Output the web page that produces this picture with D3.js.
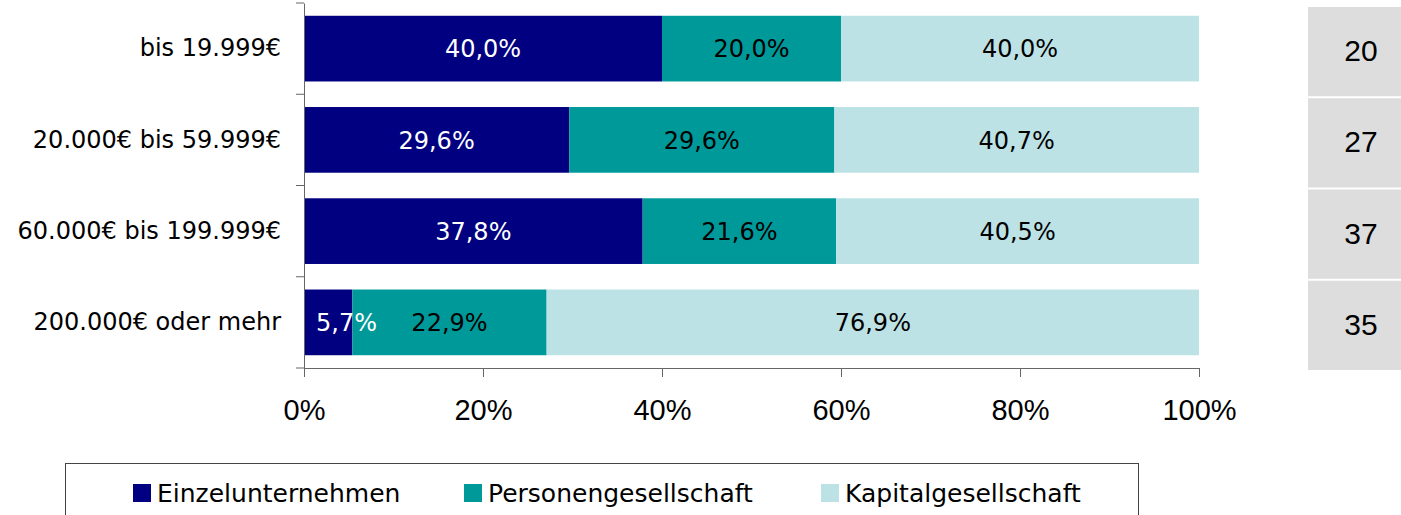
<!DOCTYPE html>
<html>
<meta charset="utf-8">
<script src="https://d3js.org/d3.v7.min.js"></script>
<style>
  body { margin: 0; background: #fff; }
  text { font-family: "DejaVu Sans", "Noto Sans", sans-serif; }
</style>
<body>
<div id="chart"></div>
<script>
// data
var categories = ["bis 19.999€", "20.000€ bis 59.999€", "60.000€ bis 199.999€", "200.000€ oder mehr"];
var series = ["Einzelunternehmen", "Personengesellschaft", "Kapitalgesellschaft"];
var einzel = [40.0, 29.6, 37.8, 5.7];
var personen = [20.0, 29.6, 21.6, 22.9];
var kapital = [40.0, 40.7, 40.5, 76.9];
var counts = [20, 27, 37, 35];
var ticks = [0, 20, 40, 60, 80, 100];
var colors = ["#000080", "#009999", "#bde2e5"];
var labelColors = ["#fff", "#000", "#000"];

var W = 1401, H = 515;
var margin = {top: 3, left: 304, right: 202, bottom: 147};
var width = W - margin.left - margin.right,
    height = H - margin.top - margin.bottom;

var svg = d3.select("#chart").append("svg")
    .attr("width", W).attr("height", H);
var g = svg.append("g")
    .attr("transform", "translate(" + margin.left + "," + margin.top + ")");

var x = d3.scaleLinear().domain([0, 100]).range([0, width]);
var y = d3.scaleBand().domain(categories).range([0, height]).paddingInner(0.28).paddingOuter(0.14);

// segments, normalised to the row total like the original
var segs = [];
categories.forEach(function(c, i) {
  var vals = [einzel[i], personen[i], kapital[i]];
  var total = d3.sum(vals), acc = 0;
  vals.forEach(function(v, k) {
    var s = {cat: c, k: k, v: v, x0: acc / total * 100};
    acc += v;
    s.x1 = acc / total * 100;
    segs.push(s);
  });
});

g.selectAll("rect.seg").data(segs).enter().append("rect")
    .attr("class", "seg")
    .attr("x", function(d) { return x(d.x0); })
    .attr("y", function(d) { return y(d.cat); })
    .attr("width", function(d) { return x(d.x1) - x(d.x0); })
    .attr("height", y.bandwidth())
    .attr("fill", function(d) { return colors[d.k]; });

// narrow segments: label starts inside the segment and runs over
function narrow(d) { return x(d.x1) - x(d.x0) < 70; }
g.selectAll("text.lbl").data(segs).enter().append("text")
    .attr("class", "lbl")
    .attr("x", function(d) { return narrow(d) ? x(d.x0) + 12 : x((d.x0 + d.x1) / 2); })
    .attr("y", function(d) { return y(d.cat) + y.bandwidth() / 2; })
    .attr("dy", "0.36em")
    .attr("text-anchor", function(d) { return narrow(d) ? "start" : "middle"; })
    .style("font-size", "24px")
    .style("fill", function(d) { return labelColors[d.k]; })
    .text(function(d) { return d.v.toFixed(1).replace(".", ",") + "%"; });

// y axis
var yAxis = g.append("g")
    .call(d3.axisLeft(y).tickSize(0).tickPadding(23));
yAxis.select(".domain").attr("stroke", "#666");
yAxis.selectAll("text").style("font-size", "24px").style("fill", "#000")
    .style("font-family", "'DejaVu Sans', sans-serif");
// tick marks between categories
g.selectAll("line.ytick").data(d3.range(categories.length + 1)).enter().append("line")
    .attr("x1", -8).attr("x2", 0)
    .attr("y1", function(i) { return i * height / categories.length; })
    .attr("y2", function(i) { return i * height / categories.length; })
    .attr("stroke", "#666");

// x axis
var xAxis = g.append("g")
    .attr("transform", "translate(0," + height + ")")
    .call(d3.axisBottom(x).tickValues(ticks).tickSize(9).tickPadding(22).tickSizeOuter(0)
      .tickFormat(function(d) { return d + "%"; }));
xAxis.select(".domain").attr("stroke", "#666");
xAxis.selectAll(".tick line").attr("stroke", "#666");
xAxis.selectAll("text").style("font-size", "29px").style("fill", "#000")
    .style("font-family", "'Liberation Sans', Arial, sans-serif");

// count boxes on the right
var boxX = 1308, boxW = 106;
var boxes = svg.selectAll("g.count").data(categories).enter().append("g");
boxes.append("rect")
    .attr("x", boxX)
    .attr("y", function(c, i) { return margin.top + i * height / categories.length + 4; })
    .attr("width", boxW)
    .attr("height", height / categories.length - 2)
    .attr("fill", "#dddddd");
boxes.append("text")
    .attr("x", boxX + boxW / 2)
    .attr("y", function(c) { return margin.top + y(c) + y.bandwidth() / 2 + 2; })
    .attr("dy", "0.35em")
    .attr("text-anchor", "middle")
    .style("font-size", "30px")
    .style("font-family", "'Liberation Sans', Arial, sans-serif")
    .text(function(c, i) { return counts[i]; });

// legend
svg.append("rect")
    .attr("x", 65.5).attr("y", 463.5).attr("width", 1073).attr("height", 80)
    .attr("fill", "none").attr("stroke", "#444");
var legX = [133, 464, 821];
var leg = svg.selectAll("g.leg").data(series).enter().append("g")
    .attr("transform", function(d, i) { return "translate(" + legX[i] + ",484)"; });
leg.append("rect").attr("width", 18).attr("height", 18)
    .attr("fill", function(d, i) { return colors[i]; });
leg.append("text").attr("x", 24).attr("y", 9).attr("dy", "0.36em")
    .style("font-size", "25px").text(function(d) { return d; });
</script>
</body>
</html>
